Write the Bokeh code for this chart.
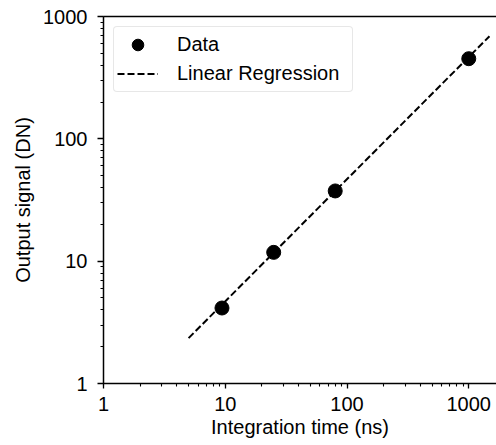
from bokeh.plotting import figure
from bokeh.models import (Range1d, LogAxis, FixedTicker, PrintfTickFormatter, Legend, LegendItem, LogTicker)
from bokeh.embed import file_html
from bokeh.resources import INLINE

# Data
time_ns = [9.4, 25, 80, 1000]
signal_dn = [4.14, 11.8, 37.5, 452]
fit_time_ns = [5, 1480]
fit_signal_dn = [2.35, 690]
x_ticks = [1, 10, 100, 1000]
y_ticks = [1, 10, 100, 1000]

FONT = "Liberation Sans"
FS = "20px"

p = figure(width=496, height=445, x_axis_type="log", y_axis_type="log",
           x_range=Range1d(1, 1690), y_range=Range1d(1, 1000),
           output_backend="svg", toolbar_location=None,
           min_border_left=103, min_border_top=16, min_border_right=0, min_border_bottom=62)
p.background_fill_color = "white"
p.border_fill_color = "white"
p.outline_line_color = None
p.xgrid.visible = False
p.ygrid.visible = False

for ax, ticks in ((p.xaxis[0], x_ticks), (p.yaxis[0], y_ticks)):
    ax.ticker = LogTicker(desired_num_ticks=4, num_minor_ticks=10)
    ax.formatter = PrintfTickFormatter(format="%d")
    ax.axis_line_width = 1.5
    ax.axis_line_color = "black"
    ax.major_tick_line_width = 1.3
    ax.minor_tick_line_width = 1.1
    ax.major_tick_in = 0
    ax.minor_tick_in = 0
    ax.major_label_text_font = FONT
    ax.major_label_text_font_size = FS
    ax.major_label_text_color = "black"
    ax.axis_label_text_font = FONT
    ax.axis_label_text_font_size = FS
    ax.axis_label_text_font_style = "normal"
    ax.axis_label_text_color = "black"

p.xaxis[0].major_tick_out = 5
p.xaxis[0].minor_tick_out = 3
p.xaxis[0].major_label_standoff = 8
p.xaxis[0].axis_label_standoff = 2
p.yaxis[0].major_tick_out = 6
p.yaxis[0].minor_tick_out = 3
p.yaxis[0].major_label_standoff = 10
p.yaxis[0].axis_label_standoff = 6

p.xaxis[0].axis_label = "Integration time (ns)"
p.yaxis[0].axis_label = "Output signal (DN)"

top = LogAxis(ticker=FixedTicker(ticks=[]), major_label_text_font_size="0px",
              major_tick_out=0, minor_tick_out=0, major_tick_in=0, minor_tick_in=0,
              axis_line_width=1.5, axis_line_color="black")
p.add_layout(top, "above")

line_r = p.line(fit_time_ns, fit_signal_dn, line_color="black", line_width=2, line_dash="7 3")
pts_r = p.scatter(time_ns, signal_dn, size=14, marker="circle", fill_color="black", line_color="black")

legend = Legend(items=[LegendItem(label="Data", renderers=[pts_r]),
                       LegendItem(label="Linear Regression", renderers=[line_r])],
                location="top_left")
legend.margin = 10
legend.padding = 3
legend.spacing = 0
legend.glyph_width = 41
legend.glyph_height = 29
legend.label_height = 29
legend.label_width = 172
legend.label_standoff = 19
legend.label_text_font = FONT
legend.label_text_font_size = FS
legend.label_text_color = "black"
legend.border_line_color = "#d0d0d0"
legend.border_line_width = 1.2
legend.background_fill_alpha = 0.9
try:
    legend.border_radius = 4
except Exception:
    pass
p.add_layout(legend, "center")

open("out.html", "w").write(file_html(p, INLINE))
